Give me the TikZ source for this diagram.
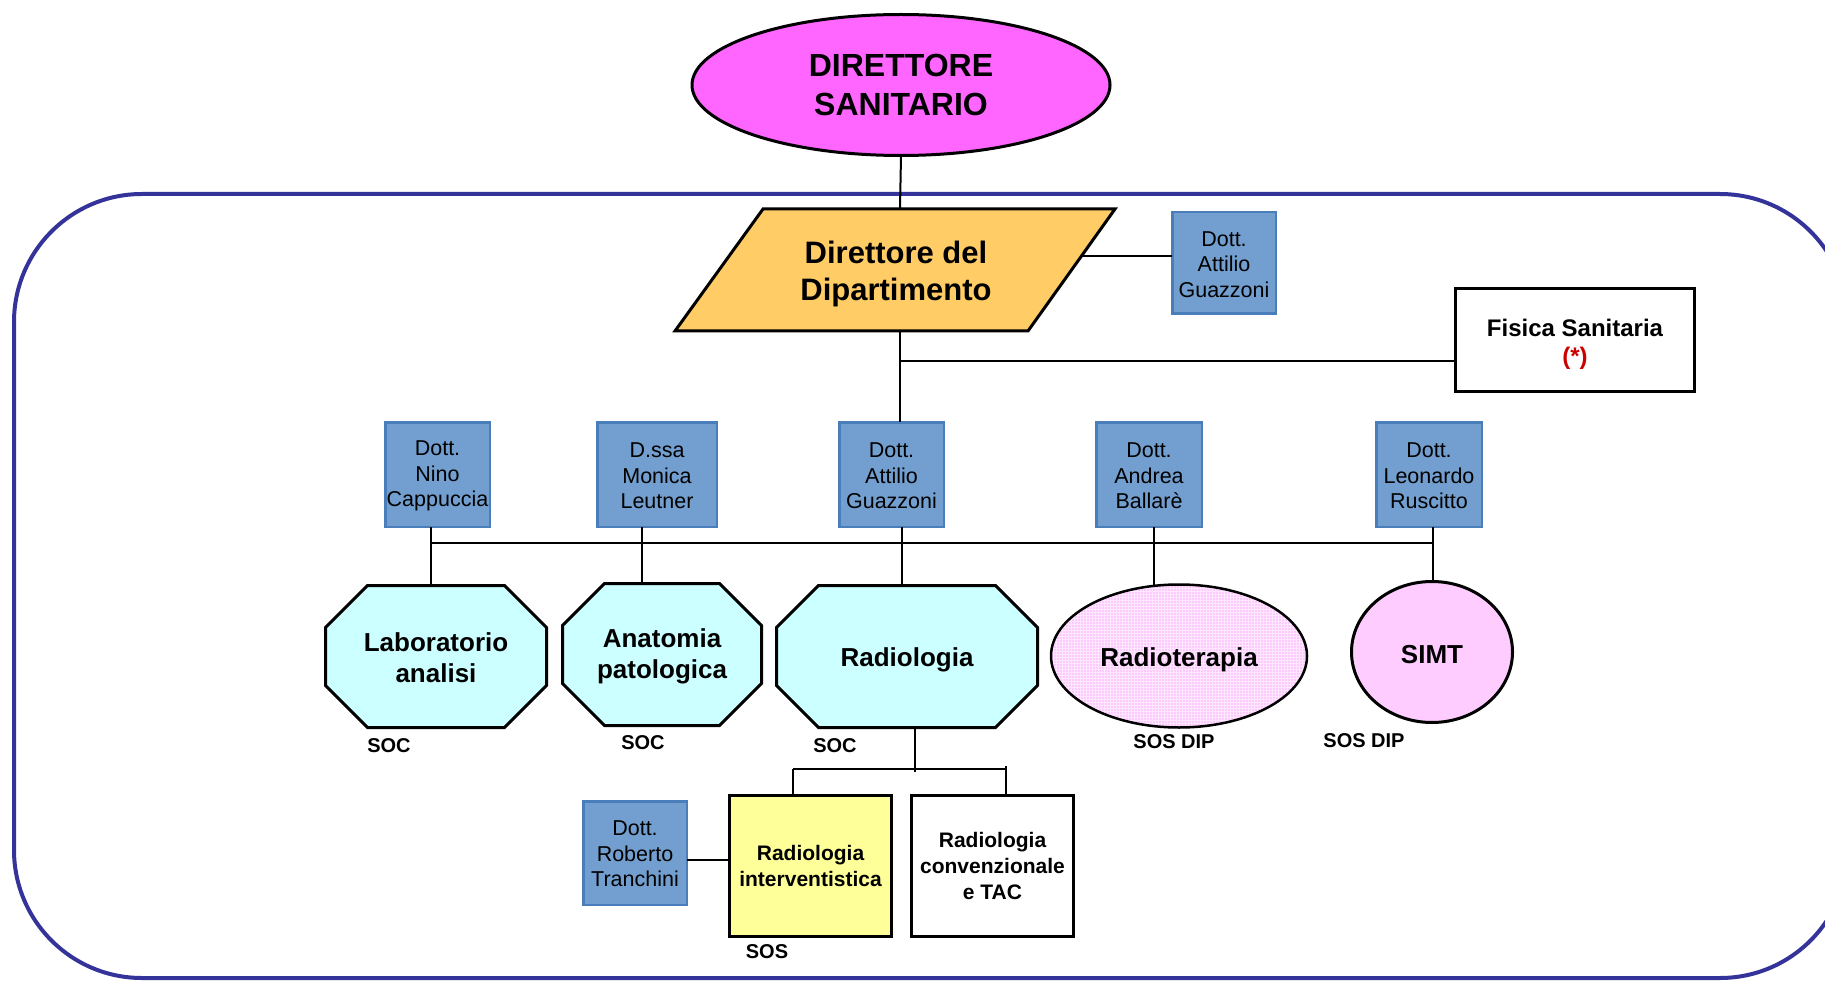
\documentclass[tikz,border=0pt]{standalone}
\usepackage{fontspec}
\setmainfont{Liberation Sans}
\usetikzlibrary{shapes.geometric,backgrounds,calc,patterns}
\definecolor{frameblue}{HTML}{333399}
\definecolor{docfill}{HTML}{729FCF}
\definecolor{docdraw}{HTML}{4A7EBB}
\definecolor{magentaA}{HTML}{FF66FF}
\definecolor{orangeA}{HTML}{FFCC66}
\definecolor{cyanA}{HTML}{CCFFFF}
\definecolor{pinkA}{HTML}{FFCCFF}
\definecolor{pinkB}{HTML}{FDCAFD}
\definecolor{pinkgrid}{HTML}{FFE8FF}
\definecolor{yellowA}{HTML}{FFFF99}
\definecolor{redA}{HTML}{CC0000}
\newcommand\mystrut[1]{\rule{0pt}{#1}}
\begin{document}
\begin{tikzpicture}[x=1pt,y=-1pt,
  conn/.style={line width=2pt,black},
  doc/.style={draw=docdraw,fill=docfill,line width=2.5pt,inner sep=0pt,outer sep=0pt,align=center,
    font=\fontsize{21.5}{25.5}\selectfont},
  unit/.style={inner sep=0pt,outer sep=0pt,align=center,font=\fontsize{26}{31}\selectfont\bfseries},
  octo/.style={draw=black,fill=cyanA,line width=3pt,line join=miter},
  sbox/.style={draw=black,line width=3pt,inner sep=0pt,outer sep=0pt,align=center,
    font=\fontsize{21}{26}\selectfont\bfseries},
  lbl/.style={inner sep=0pt,anchor=base,font=\fontsize{20}{24}\selectfont\bfseries}]
\useasboundingbox (0,0) rectangle (1825,981);

% outer frame
\draw[frameblue,line width=4pt,rounded corners=128pt] (14,194) rectangle (1848,978);

% Direttore Sanitario
\node[ellipse,draw=black,fill=magentaA,line width=3pt,minimum width=418pt,minimum height=141pt,
  inner sep=0pt,outer sep=0pt,align=center,font=\fontsize{32}{39}\selectfont\bfseries]
  (ds) at (901,85) {DIRETTORE\\SANITARIO};

% Direttore del Dipartimento (parallelogram)
\coordinate (p1) at (763,209);
\coordinate (p2) at (1115,209);
\coordinate (p3) at (1028,331);
\coordinate (p4) at (675,331);
\draw[draw=black,fill=orangeA,line width=3pt,line join=miter] (p1) -- (p2) -- (p3) -- (p4) -- cycle;
\node[align=center,inner sep=0pt,font=\fontsize{31}{37}\selectfont\bfseries] (dd) at (896,274)
  {Direttore del\\Dipartimento};
\coordinate (ddtop) at (900,209);
\coordinate (ddbot) at (900,331);
\coordinate (ddr) at (1081,256);
\coordinate (fbr) at (900,361);

% top doctor
\node[doc,minimum width=103.5pt,minimum height=101.5pt] (attop) at (1224,263) {\mystrut{18pt}Dott.\\Attilio\\Guazzoni};

% Fisica Sanitaria
\node[draw=black,line width=3pt,minimum width=239pt,minimum height=103pt,inner sep=0pt,outer sep=0pt,
  align=center,font=\fontsize{24}{28.5}\selectfont\bfseries] (fis) at (1575,340)
  {\mystrut{25.5pt}Fisica Sanitaria\\{\color{redA}(*)}};

% doctors row
\node[doc,minimum width=104.5pt,minimum height=104.5pt] (nino) at (437.5,474.5) {\mystrut{18pt}Dott.\\Nino\\Cappuccia};
\node[doc,minimum width=119.5pt,minimum height=104.5pt] (mon) at (657,474.5) {\mystrut{18pt}D.ssa\\Monica\\Leutner};
\node[doc,minimum width=104.5pt,minimum height=104.5pt] (att) at (891.5,474.5) {\mystrut{18pt}Dott.\\Attilio\\Guazzoni};
\node[doc,minimum width=105.5pt,minimum height=104.5pt] (and) at (1149,474.5) {\mystrut{18pt}Dott.\\Andrea\\Ballarè};
\node[doc,minimum width=105.5pt,minimum height=104.5pt] (leo) at (1429,474.5) {\mystrut{18pt}Dott.\\Leonardo\\Ruscitto};

% units
\node[unit,minimum width=221pt,minimum height=142pt] (lab) at (436,656.5) {\mystrut{22pt}Laboratorio\\analisi};
\node[unit,minimum width=199pt,minimum height=142pt] (ana) at (662,654.5) {\mystrut{22pt}Anatomia\\patologica};
\node[unit,minimum width=261pt,minimum height=142pt] (rad) at (907,656.5) {\mystrut{26pt}Radiologia};
\begin{pgfonlayer}{background}
\foreach \n in {lab,ana,rad}{
  \draw[octo] ($(\n.north west)+(42,0)$) -- ($(\n.north east)+(-42,0)$) -- ($(\n.north east)+(0,42)$)
    -- ($(\n.south east)+(0,-42)$) -- ($(\n.south east)+(-42,0)$) -- ($(\n.south west)+(42,0)$)
    -- ($(\n.south west)+(0,-42)$) -- ($(\n.north west)+(0,42)$) -- cycle;
}
\end{pgfonlayer}
\node[unit,ellipse,draw=black,line width=2.5pt,preaction={fill=pinkB},pattern=grid,pattern color=pinkgrid,
  minimum width=256pt,minimum height=143pt] (rt) at (1179,656) {\mystrut{25.5pt}Radioterapia};
\node[unit,ellipse,draw=black,fill=pinkA,line width=3pt,minimum width=161pt,minimum height=141pt]
  (simt) at (1432,652) {\mystrut{23pt}SIMT};

% labels
\node[lbl] (l1) at (389,752) {SOC};
\node[lbl] (l2) at (643,749) {SOC};
\node[lbl] (l3) at (835,752) {SOC};
\node[lbl] (l4) at (1174,748) {SOS DIP};
\node[lbl] (l5) at (1364,747) {SOS DIP};
\node[lbl] (l6) at (767,958) {SOS};

% sub-units of Radiologia
\node[sbox,fill=yellowA,minimum width=162pt,minimum height=141pt] (ri) at (810.5,866) {Radiologia\\interventistica};
\node[sbox,fill=white,minimum width=162pt,minimum height=141pt] (rc) at (992.5,866) {Radiologia\\convenzionale\\e TAC};
\node[doc,minimum width=103.5pt,minimum height=103.5pt] (rob) at (635,853) {\mystrut{17pt}Dott.\\Roberto\\Tranchini};

% connectors
\draw[conn] (ds.south) -- (ddtop);
\draw[conn] (ddr) -- (ddr -| attop.west);
\draw[conn] (ddbot) -- (ddbot |- att.north);
\draw[conn] (fbr) -- (fbr -| fis.west);

\coordinate (b1) at (431,543);
\coordinate (b2) at (642,543);
\coordinate (b3) at (902,543);
\coordinate (b4) at (1154,543);
\coordinate (b5) at (1433,543);
\draw[conn] (b1) -- (b5);
\foreach \d/\u/\b in {nino/lab/b1,mon/ana/b2,att/rad/b3,and/rt/b4,leo/simt/b5}
  \draw[conn] (\d.south -| \b) -- (\u.north -| \b);

\coordinate (s0) at (915,772);
\coordinate (s1) at (793,769);
\coordinate (s2) at (1006,769);
\draw[conn] (rad.south -| s0) -- (s0);
\draw[conn] (s1) -- (s2);
\draw[conn] (s1) -- (s1 |- ri.north);
\draw[conn] ($(s2)+(0,-3)$) -- (s2 |- rc.north);
\coordinate (rr) at (688,860);
\draw[conn] (rob.east |- rr) -- (ri.west |- rr);
\end{tikzpicture}
\end{document}
